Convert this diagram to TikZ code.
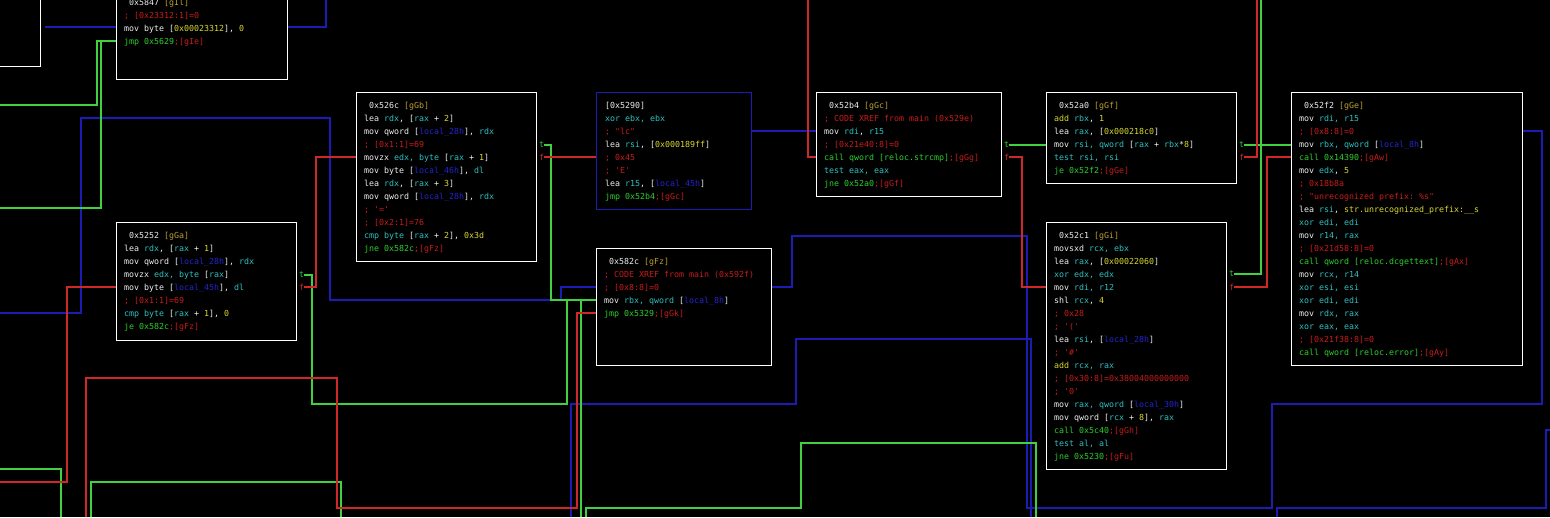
\documentclass[tikz,border=0pt]{standalone}
\usepackage{fontspec}
\setmonofont{DejaVu Sans Mono}
\usepackage{xcolor}
\definecolor{r2txt}{HTML}{EEEEEE}
\definecolor{r2reg}{HTML}{30C0C0}
\definecolor{r2num}{HTML}{D8D830}
\definecolor{r2loc}{HTML}{2424D0}
\definecolor{r2cmt}{HTML}{C81C1C}
\definecolor{r2jmp}{HTML}{2CD02C}
\definecolor{r2tag}{HTML}{BCA030}
\definecolor{r2green}{HTML}{40D040}
\definecolor{r2red}{HTML}{D02828}
\definecolor{r2blue}{HTML}{1C1CB4}
\usetikzlibrary{positioning}
\newcommand\rtt{\fontsize{8.3pt}{13pt}\selectfont\ttfamily}
\newcommand\Rg[1]{\textcolor{r2reg}{#1}}
\newcommand\Nm[1]{\textcolor{r2num}{#1}}
\newcommand\Lc[1]{\textcolor{r2loc}{#1}}
\newcommand\Cm[1]{\textcolor{r2cmt}{#1}}
\newcommand\Jp[1]{\textcolor{r2jmp}{#1}}
\newcommand\Tg[1]{\textcolor{r2cmt}{;[#1]}}
\newcommand\Hd[2]{\rule{0pt}{8pt}\ #1 \textcolor{r2tag}{[#2]}}
\pgfdeclarelayer{bg}
\pgfdeclarelayer{wires}
\pgfsetlayers{bg,wires,main}
\tikzset{
  blk/.style={draw=white, line width=1.3pt, fill=black, anchor=north west, inner sep=0pt},
  blkcur/.style={blk, draw=r2blue},
  code/.style={anchor=north west, inner sep=0pt, align=left, font=\rtt, text=r2txt},
  tlab/.style={anchor=west, inner sep=0pt, font=\rtt, text=r2jmp},
  flab/.style={anchor=west, inner sep=0pt, font=\rtt, text=r2red},
  wire/.style={line width=1.2pt},
  bwire/.style={wire, draw=r2blue},
  gwire/.style={wire, draw=r2green},
  rwire/.style={wire, draw=r2red},
}
\begin{document}
\begin{tikzpicture}[x=1pt, y=-1pt]
\begin{pgfonlayer}{bg}
  \fill[black] (0,0) rectangle (1550,517);
\end{pgfonlayer}
\useasboundingbox (0,0) rectangle (1550,517);

% blocks
\node[blk, minimum width=60pt, minimum height=86pt] (prev) at (-20,-20) {};
\node[blk, minimum width=171pt, minimum height=90pt] (gIl) at (116,-11) {};
\node[code] (gIl-txt) at ([xshift=8pt, yshift=-8pt]gIl.north west) {%
\Hd{0x5847}{gIl}\\
\Cm{; [0x23312:1]=0}\\
mov byte [\Nm{0x00023312}], \Nm{0}\\
\Jp{jmp 0x5629}\Tg{gIe}};

\node[blk, minimum width=180pt, minimum height=118pt] (gGa) at (116,222) {};
\node[code] (gGa-txt) at ([xshift=8pt, yshift=-8pt]gGa.north west) {%
\Hd{0x5252}{gGa}\\
lea \Rg{rdx}, [\Rg{rax} + \Nm{1}]\\
mov qword [\Lc{local\_28h}], \Rg{rdx}\\
movzx \Rg{edx, byte} [\Rg{rax}]\\
mov byte [\Lc{local\_45h}], \Rg{dl}\\
\Cm{; [0x1:1]=69}\\
\Rg{cmp byte} [\Rg{rax} + \Nm{1}], \Nm{0}\\
\Jp{je 0x582c}\Tg{gFz}};

\node[blk, minimum width=180pt, minimum height=169pt] (gGb) at (356,92) {};
\node[code] (gGb-txt) at ([xshift=8pt, yshift=-8pt]gGb.north west) {%
\Hd{0x526c}{gGb}\\
lea \Rg{rdx}, [\Rg{rax} + \Nm{2}]\\
mov qword [\Lc{local\_28h}], \Rg{rdx}\\
\Cm{; [0x1:1]=69}\\
movzx \Rg{edx, byte} [\Rg{rax} + \Nm{1}]\\
mov byte [\Lc{local\_46h}], \Rg{dl}\\
lea \Rg{rdx}, [\Rg{rax} + \Nm{3}]\\
mov qword [\Lc{local\_28h}], \Rg{rdx}\\
\Cm{; '='}\\
\Cm{; [0x2:1]=76}\\
\Rg{cmp byte} [\Rg{rax} + \Nm{2}], \Nm{0x3d}\\
\Jp{jne 0x582c}\Tg{gFz}};

\node[blkcur, minimum width=155pt, minimum height=117pt] (b5290) at (596,92) {};
\node[code] (b5290-txt) at ([xshift=9pt, yshift=-8pt]b5290.north west) {%
\rule{0pt}{8pt}{[0x5290]}\\
\Rg{xor ebx, ebx}\\
\Cm{; "lc"}\\
lea \Rg{rsi}, [\Nm{0x000189ff}]\\
\Cm{; 0x45}\\
\Cm{; 'E'}\\
lea \Rg{r15}, [\Lc{local\_45h}]\\
\Jp{jmp 0x52b4}\Tg{gGc}};

\node[blk, minimum width=175pt, minimum height=117pt] (gFz) at (596,248) {};
\node[code] (gFz-txt) at ([xshift=8pt, yshift=-8pt]gFz.north west) {%
\Hd{0x582c}{gFz}\\
\Cm{; CODE XREF from main (0x592f)}\\
\Cm{; [0x8:8]=0}\\
mov \Rg{rbx, qword} [\Lc{local\_8h}]\\
\Jp{jmp 0x5329}\Tg{gGk}};

\node[blk, minimum width=185pt, minimum height=104pt] (gGc) at (816,92) {};
\node[code] (gGc-txt) at ([xshift=8pt, yshift=-8pt]gGc.north west) {%
\Hd{0x52b4}{gGc}\\
\Cm{; CODE XREF from main (0x529e)}\\
mov \Rg{rdi}, \Rg{r15}\\
\Cm{; [0x21e40:8]=0}\\
\Jp{call qword [reloc.strcmp]}\Tg{gGg}\\
\Rg{test eax, eax}\\
\Jp{jne 0x52a0}\Tg{gGf}};

\node[blk, minimum width=190pt, minimum height=91pt] (gGf) at (1046,92) {};
\node[code] (gGf-txt) at ([xshift=8pt, yshift=-8pt]gGf.north west) {%
\Hd{0x52a0}{gGf}\\
\Nm{add} \Rg{rbx}, \Nm{1}\\
lea \Rg{rax}, [\Nm{0x000218c0}]\\
mov \Rg{rsi, qword} [\Rg{rax} + \Rg{rbx}*\Nm{8}]\\
\Rg{test rsi, rsi}\\
\Jp{je 0x52f2}\Tg{gGe}};

\node[blk, minimum width=180pt, minimum height=247pt] (gGi) at (1046,222) {};
\node[code] (gGi-txt) at ([xshift=8pt, yshift=-8pt]gGi.north west) {%
\Hd{0x52c1}{gGi}\\
movsxd \Rg{rcx, ebx}\\
lea \Rg{rax}, [\Nm{0x00022060}]\\
\Rg{xor edx, edx}\\
mov \Rg{rdi, r12}\\
shl \Rg{rcx}, \Nm{4}\\
\Cm{; 0x28}\\
\Cm{; '('}\\
lea \Rg{rsi}, [\Lc{local\_28h}]\\
\Cm{; '\#'}\\
\Nm{add} \Rg{rcx, rax}\\
\Cm{; [0x30:8]=0x38004000000000}\\
\Cm{; '0'}\\
mov \Rg{rax, qword} [\Lc{local\_30h}]\\
mov qword [\Rg{rcx} + \Nm{8}], \Rg{rax}\\
\Jp{call 0x5c40}\Tg{gGh}\\
\Rg{test al, al}\\
\Jp{jne 0x5230}\Tg{gFu}};

\node[blk, minimum width=231pt, minimum height=273pt] (gGe) at (1291,92) {};
\node[code] (gGe-txt) at ([xshift=8pt, yshift=-8pt]gGe.north west) {%
\Hd{0x52f2}{gGe}\\
mov \Rg{rdi, r15}\\
\Cm{; [0x8:8]=0}\\
mov \Rg{rbx, qword} [\Lc{local\_8h}]\\
\Jp{call 0x14390}\Tg{gAw}\\
mov \Rg{edx}, \Nm{5}\\
\Cm{; 0x18b8a}\\
\Cm{; "unrecognized prefix: \%s"}\\
lea \Rg{rsi}, \Nm{str.unrecognized\_prefix:\_\_s}\\
\Rg{xor edi, edi}\\
mov \Rg{r14, rax}\\
\Cm{; [0x21d58:8]=0}\\
\Jp{call qword [reloc.dcgettext]}\Tg{gAx}\\
mov \Rg{rcx, r14}\\
\Rg{xor esi, esi}\\
\Rg{xor edi, edi}\\
mov \Rg{rdx, rax}\\
\Rg{xor eax, eax}\\
\Cm{; [0x21f38:8]=0}\\
\Jp{call qword [reloc.error]}\Tg{gAy}};

% true / false labels
\node[tlab] (gGa-t) at (299,275) {t};
\node[flab] (gGa-f) at (299,287) {f};
\node[tlab] (gGb-t) at (539,145) {t};
\node[flab] (gGb-f) at (539,157) {f};
\node[tlab] (gGc-t) at (1004,145) {t};
\node[flab] (gGc-f) at (1004,157) {f};
\node[tlab] (gGf-t) at (1239,145) {t};
\node[flab] (gGf-f) at (1239,157) {f};
\node[tlab] (gGi-t) at (1229,274) {t};
\node[flab] (gGi-f) at (1229,287) {f};

% ends of the wires
\coordinate (gIl-in) at (45,27);
\coordinate (gIl-out) at (116,41);
\coordinate (gIl-split) at (101,41);
\coordinate (gGa-in) at (116,287);
\coordinate (gGb-in) at (356,157);
\coordinate (b5290-in) at (596,157);
\coordinate (gFz-in1) at (596,287);
\coordinate (gFz-in2) at (596,300);
\coordinate (gFz-in3) at (596,313);
\coordinate (gFz-out) at (771,287);
\coordinate (gGc-in1) at (816,131);
\coordinate (gGc-in2) at (816,157);
\coordinate (gGf-in) at (1046,145);
\coordinate (gGi-in) at (1046,287);
\coordinate (gGe-in1) at (1291,145);
\coordinate (gGe-in2) at (1291,157);
\coordinate (gGe-out) at (1522,131);

\begin{pgfonlayer}{wires}
  % blue
  \draw[bwire] (gIl-in) -- (326,27) -- (326,0);
  \draw[bwire] (0,313) -| (81,118) -| (330,300) -| (561,287) -- (gFz-in1);
  \draw[bwire] (b5290.east |- gGc-in1) -- (gGc-in1);
  \draw[bwire] (gFz-out) -| (792,236) -| (1027,508) -| (1272,404) -| (1542,131) -- (gGe-out);
  \draw[bwire] (571,517) |- (796,404) |- (1031,339) -- (1031,517);
  \draw[bwire] (1550,430) -| (1546,508) -| (1277,517);
  % green
  \draw[gwire] (gIl-out) -| (97,105) -- (0,105);
  \draw[gwire] (gIl-split) |- (0,208);
  \draw[gwire] (gGa-t.east) -| (312,404) -| (567,300) -- (gFz-in2);
  \draw[gwire] (gGb-t.east) -| (551,300) -- (gFz-in2);
  \draw[gwire] (581,300) -- (581,517);
  \draw[gwire] (586,517) |- (801,508) |- (1036,443) -- (1036,517);
  \draw[gwire] (0,469) -| (61,517);
  \draw[gwire] (91,517) |- (341,482) -- (341,517);
  \draw[gwire] (gGc-t.east) -- (gGf-in);
  \draw[gwire] (gGf-t.east) -- (gGe-in1);
  \draw[gwire] (gGi-t.east) -| (1261,0);
  % red
  \draw[rwire] (gGa-f.east) -| (316,157) -- (gGb-in);
  \draw[rwire] (gGa-in) -| (67,482) -- (0,482);
  \draw[rwire] (86,517) |- (337,378) |- (577,508) |- (gFz-in3);
  \draw[rwire] (gGb-f.east) -- (b5290-in);
  \draw[rwire] (808,0) |- (gGc-in2);
  \draw[rwire] (gGc-f.east) -| (1022,287) -- (gGi-in);
  \draw[rwire] (gGf-f.east) -| (1257,0);
  \draw[rwire] (gGi-f.east) -| (1267,157) -- (gGe-in2);
\end{pgfonlayer}
\end{tikzpicture}
\end{document}
